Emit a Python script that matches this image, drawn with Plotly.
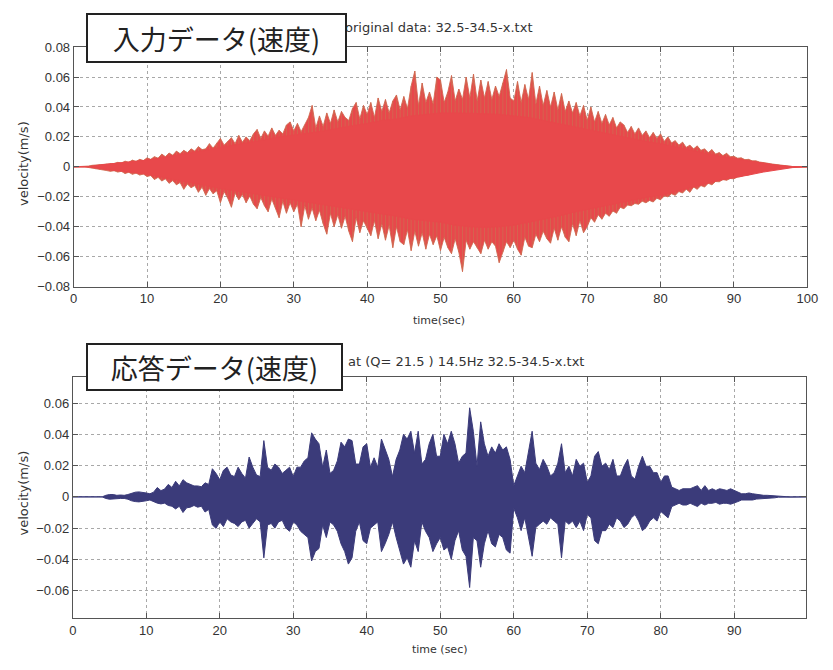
import numpy as np
import plotly.graph_objects as go

W, H = 833, 670

# ---------------- data: input (top) ----------------
# solid core envelope, sampled every 2 s (0..100)
core_up = [0, 0, 0.0015, 0.0025, 0.0035, 0.0045, 0.006, 0.0075, 0.009, 0.011,
           0.013, 0.0145, 0.016, 0.018, 0.02, 0.021, 0.0225, 0.024, 0.026, 0.0275,
           0.029, 0.031, 0.032, 0.034, 0.035, 0.036, 0.036, 0.036, 0.0355, 0.035,
           0.034, 0.033, 0.031, 0.029, 0.027, 0.025, 0.023, 0.021, 0.019, 0.017,
           0.0155, 0.0135, 0.011, 0.009, 0.007, 0.0055, 0.004, 0.0025, 0.001, 0.0002, 0]
core_lo = [0, 0, -0.0015, -0.0027, -0.0037, -0.005, -0.0068, -0.0085, -0.0105, -0.0125,
           -0.0145, -0.016, -0.0175, -0.019, -0.0205, -0.0222, -0.0235, -0.025, -0.027, -0.0285,
           -0.03, -0.0315, -0.033, -0.035, -0.036, -0.037, -0.039, -0.04, -0.0405, -0.04,
           -0.039, -0.0375, -0.035, -0.033, -0.0305, -0.028, -0.026, -0.0245, -0.0225, -0.0205,
           -0.019, -0.0165, -0.014, -0.0115, -0.009, -0.0073, -0.0055, -0.0035, -0.0018, -0.0005, 0]
# spike extremes, sampled every 0.5 s (0..100)
in_peak_up = [
    0, 0, 0, 0, 0.0005, 0.001, 0.0012, 0.0015, 0.0018, 0.002,
    0.0025, 0.0022, 0.003, 0.0026, 0.0038, 0.003, 0.0045, 0.0036, 0.005, 0.0042,
    0.006, 0.005, 0.0068, 0.0058, 0.0085, 0.0068, 0.0092, 0.0078, 0.0105, 0.0088,
    0.011, 0.0095, 0.012, 0.0105, 0.0135, 0.0115, 0.012, 0.0155, 0.0125, 0.016,
    0.019, 0.0145, 0.017, 0.0195, 0.0155, 0.021, 0.0165, 0.02, 0.0175, 0.022,
    0.025, 0.019, 0.024, 0.0205, 0.026, 0.021, 0.0245, 0.022, 0.028, 0.03,
    0.024, 0.029, 0.0235, 0.028, 0.033, 0.041, 0.026, 0.034, 0.027, 0.036,
    0.029, 0.038, 0.03, 0.037, 0.033, 0.031, 0.039, 0.043, 0.032, 0.041,
    0.035, 0.043, 0.033, 0.046, 0.037, 0.045, 0.036, 0.044, 0.048, 0.038,
    0.047, 0.039, 0.054, 0.064, 0.041, 0.056, 0.043, 0.05, 0.042, 0.06,
    0.058, 0.043, 0.05, 0.061, 0.044, 0.052, 0.045, 0.06, 0.046, 0.062,
    0.044, 0.058, 0.046, 0.057, 0.045, 0.054, 0.047, 0.056, 0.065, 0.046,
    0.044, 0.057, 0.043, 0.055, 0.045, 0.063, 0.042, 0.054, 0.041, 0.051,
    0.04, 0.05, 0.038, 0.049, 0.037, 0.044, 0.036, 0.043, 0.034, 0.041,
    0.031, 0.04, 0.03, 0.037, 0.029, 0.035, 0.028, 0.033, 0.026, 0.03,
    0.028, 0.023, 0.027, 0.022, 0.026, 0.021, 0.024, 0.0195, 0.023, 0.019,
    0.022, 0.017, 0.02, 0.016, 0.0175, 0.0145, 0.0165, 0.013, 0.0145, 0.012,
    0.014, 0.011, 0.012, 0.0095, 0.0115, 0.0085, 0.0095, 0.0075, 0.009, 0.0068,
    0.007, 0.0058, 0.006, 0.0048, 0.005, 0.004, 0.004, 0.0032, 0.003, 0.0025,
    0.002, 0.0016, 0.0015, 0.001, 0.0008, 0.0005, 0.0002, 0, 0, 0,
    0]
in_peak_lo = [
    0, 0, 0, 0, -0.0005, -0.001, -0.0015, -0.0018, -0.002, -0.0025,
    -0.003, -0.0026, -0.0035, -0.003, -0.0045, -0.0036, -0.005, -0.0042, -0.0055, -0.0048,
    -0.0065, -0.0058, -0.0085, -0.007, -0.0095, -0.008, -0.011, -0.0092, -0.012, -0.0105,
    -0.015, -0.0115, -0.014, -0.0125, -0.017, -0.0135, -0.019, -0.0145, -0.018, -0.016,
    -0.024, -0.0165, -0.021, -0.027, -0.0175, -0.022, -0.0185, -0.024, -0.0195, -0.025,
    -0.028, -0.0205, -0.026, -0.03, -0.0215, -0.027, -0.034, -0.023, -0.031, -0.024,
    -0.03, -0.025, -0.04, -0.026, -0.035, -0.0275, -0.036, -0.029, -0.038, -0.045,
    -0.031, -0.04, -0.032, -0.041, -0.033, -0.043, -0.05, -0.034, -0.044, -0.036,
    -0.041, -0.046, -0.036, -0.048, -0.038, -0.049, -0.039, -0.054, -0.04, -0.05,
    -0.052, -0.042, -0.056, -0.043, -0.053, -0.044, -0.055, -0.045, -0.052, -0.046,
    -0.056, -0.047, -0.054, -0.058, -0.048, -0.057, -0.07, -0.049, -0.055, -0.05,
    -0.054, -0.058, -0.049, -0.055, -0.05, -0.053, -0.064, -0.057, -0.05, -0.054,
    -0.049, -0.055, -0.059, -0.047, -0.053, -0.054, -0.045, -0.05, -0.043, -0.048,
    -0.051, -0.041, -0.049, -0.04, -0.047, -0.05, -0.038, -0.046, -0.036, -0.044,
    -0.04, -0.034, -0.037, -0.032, -0.035, -0.031, -0.033, -0.0295, -0.031, -0.027,
    -0.028, -0.0255, -0.026, -0.0245, -0.025, -0.023, -0.024, -0.0225, -0.0235, -0.021,
    -0.022, -0.0195, -0.02, -0.018, -0.019, -0.0165, -0.0175, -0.015, -0.017, -0.0135,
    -0.015, -0.0125, -0.0135, -0.011, -0.012, -0.0098, -0.01, -0.0085, -0.009, -0.0078,
    -0.008, -0.0068, -0.0065, -0.0055, -0.0055, -0.0042, -0.004, -0.0033, -0.003, -0.0025,
    -0.002, -0.0018, -0.0015, -0.001, -0.0008, -0.0005, -0.0002, 0, 0, 0,
    0]

# ---------------- data: response (bottom), every 0.5 s ----------------
out_up = [
    0, 0, 0, 0, 0, 0, 0, 0, 0, 0.001,
    0.0015, 0.0015, 0.001, 0.0012, 0.001, 0.0015, 0.0025, 0.003, 0.0032, 0.003,
    0.0025, 0.002, 0.003, 0.006, 0.004, 0.005, 0.008, 0.006, 0.01, 0.007,
    0.011, 0.009, 0.008, 0.007, 0.007, 0.0065, 0.009, 0.008, 0.018, 0.015,
    0.011, 0.017, 0.019, 0.014, 0.013, 0.019, 0.015, 0.012, 0.0255, 0.019,
    0.014, 0.013, 0.036, 0.019, 0.017, 0.021, 0.019, 0.015, 0.017, 0.019,
    0.013, 0.019, 0.019, 0.023, 0.025, 0.041, 0.037, 0.034, 0.019, 0.03,
    0.015, 0.017, 0.023, 0.035, 0.032, 0.037, 0.036, 0.021, 0.021, 0.032,
    0.034, 0.019, 0.025, 0.019, 0.037, 0.03, 0.024, 0.013, 0.024, 0.03,
    0.04, 0.037, 0.042, 0.028, 0.042, 0.021, 0.024, 0.034, 0.04, 0.026,
    0.026, 0.04, 0.034, 0.042, 0.034, 0.0216, 0.026, 0.028, 0.057, 0.042,
    0.0196, 0.048, 0.034, 0.026, 0.032, 0.028, 0.034, 0.03, 0.032, 0.024,
    0.0072, 0.0134, 0.0196, 0.0155, 0.03, 0.042, 0.0216, 0.0175, 0.024, 0.0196,
    0.0134, 0.0155, 0.0216, 0.034, 0.0155, 0.0196, 0.0134, 0.024, 0.0196, 0.0216,
    0.0093, 0.0134, 0.026, 0.029, 0.0196, 0.0216, 0.0175, 0.024, 0.0134, 0.0134,
    0.0196, 0.024, 0.0134, 0.0113, 0.0196, 0.026, 0.0196, 0.0196, 0.0155, 0.0155,
    0.0093, 0.0134, 0.0134, 0.0062, 0.0052, 0.0041, 0.0052, 0.0052, 0.0052, 0.0062,
    0.0072, 0.0041, 0.0072, 0.0041, 0.0052, 0.0041, 0.0052, 0.0047, 0.0041, 0.0052,
    0.0041, 0.003, 0.002, 0.002, 0.0025, 0.002, 0.0016, 0.001, 0.001, 0.001,
    0.0008, 0.0006, 0.0002, 0, 0, 0, 0, 0, 0, 0,
    0]
out_lo = [
    0, 0, 0, 0, 0, 0, 0, 0, 0, -0.001,
    -0.0015, -0.0015, -0.0012, -0.001, -0.001, -0.0015, -0.0025, -0.003, -0.0032, -0.003,
    -0.0025, -0.002, -0.003, -0.004, -0.0045, -0.004, -0.0055, -0.006, -0.0077, -0.006,
    -0.01, -0.007, -0.0066, -0.0055, -0.0066, -0.006, -0.0097, -0.008, -0.018, -0.0201,
    -0.016, -0.019, -0.014, -0.016, -0.017, -0.019, -0.016, -0.015, -0.02, -0.017,
    -0.014, -0.016, -0.039, -0.018, -0.017, -0.02, -0.016, -0.015, -0.02, -0.022,
    -0.016, -0.018, -0.022, -0.024, -0.026, -0.041, -0.035, -0.033, -0.018, -0.026,
    -0.016, -0.018, -0.022, -0.03, -0.035, -0.043, -0.039, -0.022, -0.016, -0.028,
    -0.03, -0.02, -0.018, -0.016, -0.035, -0.03, -0.024, -0.016, -0.026, -0.035,
    -0.043, -0.039, -0.045, -0.028, -0.035, -0.016, -0.022, -0.026, -0.035, -0.03,
    -0.026, -0.034, -0.032, -0.04, -0.028, -0.0216, -0.034, -0.038, -0.058, -0.026,
    -0.028, -0.045, -0.03, -0.0216, -0.03, -0.032, -0.024, -0.026, -0.034, -0.036,
    -0.0072, -0.0134, -0.0216, -0.0134, -0.026, -0.038, -0.0196, -0.0175, -0.0155, -0.0175,
    -0.0134, -0.0155, -0.0175, -0.039, -0.0155, -0.0175, -0.0155, -0.0196, -0.0155, -0.0216,
    -0.0113, -0.0134, -0.028, -0.03, -0.0216, -0.0216, -0.0175, -0.0196, -0.0134, -0.0155,
    -0.0196, -0.0175, -0.0134, -0.0113, -0.0155, -0.0216, -0.0196, -0.0155, -0.0134, -0.0155,
    -0.0093, -0.0113, -0.0134, -0.0062, -0.0052, -0.0041, -0.0052, -0.0052, -0.0041, -0.0052,
    -0.0062, -0.0041, -0.0052, -0.0041, -0.0041, -0.0035, -0.0047, -0.0041, -0.0041, -0.0047,
    -0.0041, -0.003, -0.002, -0.002, -0.002, -0.002, -0.0014, -0.001, -0.001, -0.001,
    -0.0008, -0.0006, -0.0002, 0, 0, 0, 0, 0, 0, 0,
    0]

t_core = np.arange(len(core_up)) * 2.0
t_in = np.arange(len(in_peak_up)) * 0.5
t_out = np.arange(len(out_up)) * 0.5

top_xticks = list(range(0, 101, 10))
bot_xticks = list(range(0, 91, 10))
top_yticks = [-0.08, -0.06, -0.04, -0.02, 0, 0.02, 0.04, 0.06, 0.08]
top_ytext = ["\u22120.08", "\u22120.06", "\u22120.04", "\u22120.02", "0", "0.02", "0.04", "0.06", "0.08"]
bot_yticks = [-0.06, -0.04, -0.02, 0, 0.02, 0.04, 0.06]
bot_ytext = ["\u22120.06", "\u22120.04", "\u22120.02", "0", "0.02", "0.04", "0.06"]

RED = "#E8484B"
RED_EDGE = "#CF6A50"
NAVY = "#3B3B7A"

fig = go.Figure()

# top: jagged spike envelope (polygon through the spike extremes)
fig.add_trace(go.Scatter(x=list(t_in) + list(t_in[::-1]), y=in_peak_up + in_peak_lo[::-1],
                         fill="toself", fillcolor=RED, mode="lines",
                         line=dict(color=RED_EDGE, width=0.9), xaxis="x", yaxis="y",
                         hoverinfo="skip", showlegend=False))
# top: thin spikes on top of the envelope edge
sx, sy = [], []
for t, u, l in zip(t_in, in_peak_up, in_peak_lo):
    sx += [t, t, None]
    sy += [l, u, None]
fig.add_trace(go.Scatter(x=sx, y=sy, mode="lines", line=dict(color=RED_EDGE, width=0.8),
                         xaxis="x", yaxis="y", hoverinfo="skip", showlegend=False))
# top: solid core
fig.add_trace(go.Scatter(x=list(t_core) + list(t_core[::-1]), y=core_up + core_lo[::-1],
                         fill="toself", fillcolor=RED, mode="lines",
                         line=dict(color=RED, width=1), xaxis="x", yaxis="y",
                         hoverinfo="skip", showlegend=False))

# bottom: envelope polygon
fig.add_trace(go.Scatter(x=list(t_out) + list(t_out[::-1]), y=out_up + out_lo[::-1],
                         fill="toself", fillcolor=NAVY, mode="lines",
                         line=dict(color=NAVY, width=1), xaxis="x2", yaxis="y2",
                         hoverinfo="skip", showlegend=False))

tickfont = dict(family="Liberation Sans, Arial, sans-serif", size=13, color="#333")
axis_common = dict(showline=True, linecolor="#555", linewidth=1, mirror="ticks",
                   ticks="inside", ticklen=5, tickcolor="#555", showgrid=True,
                   gridcolor="#a8a8a8", griddash="dot", gridwidth=1, zeroline=False,
                   tickfont=tickfont)

fig.update_layout(
    width=W, height=H, margin=dict(l=0, r=0, t=0, b=0),
    paper_bgcolor="white", plot_bgcolor="white",
    xaxis=dict(domain=[71 / W, 818 / W], range=[0, 100], anchor="y",
               tickvals=top_xticks, **axis_common),
    yaxis=dict(domain=[(H - 286) / H, (H - 41) / H], range=[-0.08, 0.08], anchor="x",
               tickvals=top_yticks, ticktext=top_ytext, **axis_common),
    xaxis2=dict(domain=[70 / W, 817 / W], range=[0, 99.8], anchor="y2",
                tickvals=bot_xticks, **axis_common),
    yaxis2=dict(domain=[(H - 625) / H, (H - 378) / H], range=[-0.0775, 0.077], anchor="x2",
                tickvals=bot_yticks, ticktext=bot_ytext, **axis_common),
)

fam = "DejaVu Sans, sans-serif"
ann = [
    dict(text="original data: 32.5-34.5-x.txt", x=443 / W, y=1 - 21 / H,
         font=dict(family=fam, size=13, color="#333")),
    dict(text="at (Q= 21.5 ) 14.5Hz 32.5-34.5-x.txt", x=348 / W, y=1 - 363 / H, xanchor="left",
         font=dict(family=fam, size=13, color="#333")),
    dict(text="time(sec)", x=443 / W, y=1 - 321 / H, font=dict(family=fam, size=11, color="#333")),
    dict(text="time (sec)", x=443 / W, y=1 - 657 / H, font=dict(family=fam, size=11, color="#333")),
    dict(text="velocity(m/s)", x=20 / W, y=1 - 160 / H, textangle=-90,
         font=dict(family=fam, size=13, color="#333")),
    dict(text="velocity(m/s)", x=20 / W, y=1 - 497 / H, textangle=-90,
         font=dict(family=fam, size=13, color="#333")),
]
for a in ann:
    a.setdefault("xanchor", "center")
    fig.add_annotation(xref="paper", yref="paper", yanchor="middle", showarrow=False, **a)

box_font = dict(family="Noto Sans CJK JP", size=27, color="#222")
fig.add_annotation(text="入力データ(速度)", xref="paper", yref="paper", x=216.5 / W, y=1 - 32 / H,
                   xanchor="center", yanchor="middle", showarrow=False, font=box_font,
                   bgcolor="white", bordercolor="#222", borderwidth=2, borderpad=0,
                   width=257, height=46)
fig.add_annotation(text="応答データ(速度)", xref="paper", yref="paper", x=214.5 / W, y=1 - 368 / H,
                   xanchor="center", yanchor="middle", showarrow=False, font=box_font,
                   bgcolor="white", bordercolor="#222", borderwidth=2, borderpad=0,
                   width=253, height=44)

fig.write_html("out.html")
